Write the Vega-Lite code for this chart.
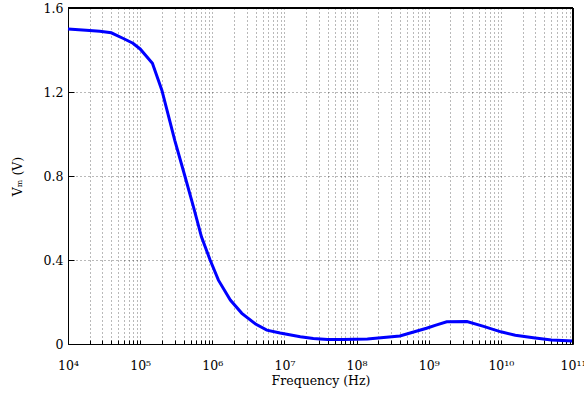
{
  "$schema": "https://vega.github.io/schema/vega-lite/v6.json",
  "width": 505,
  "height": 336,
  "autosize": {"type": "none"},
  "padding": {"left": 68, "top": 8, "right": 11, "bottom": 54},
  "background": "white",
  "config": {
    "view": {"stroke": null},
    "axis": {
      "labelFont": "DejaVu Serif",
      "titleFont": "DejaVu Serif",
      "labelFontSize": 12.5,
      "labelColor": "#000",
      "titleFontSize": 12.5,
      "titleFontWeight": "normal",
      "titleColor": "#000",
      "domainColor": "#000",
      "tickColor": "#000",
      "gridColor": "#000",
      "gridOpacity": 0.55,
      "gridDash": [1, 3]
    }
  },
  "data": {
    "values": [
      {"f": 10000, "v": 1.5},
      {"f": 17783, "v": 1.494},
      {"f": 27542, "v": 1.489},
      {"f": 39811, "v": 1.482},
      {"f": 57544, "v": 1.456},
      {"f": 79433, "v": 1.432},
      {"f": 100000, "v": 1.405},
      {"f": 147911, "v": 1.337},
      {"f": 199526, "v": 1.21},
      {"f": 301995, "v": 0.97},
      {"f": 416869, "v": 0.8},
      {"f": 549541, "v": 0.652},
      {"f": 707946, "v": 0.51},
      {"f": 933254, "v": 0.4},
      {"f": 1216186, "v": 0.304},
      {"f": 1778279, "v": 0.209},
      {"f": 2570396, "v": 0.146},
      {"f": 3981072, "v": 0.095},
      {"f": 5701643, "v": 0.066},
      {"f": 8709636, "v": 0.052},
      {"f": 16595869, "v": 0.035},
      {"f": 25118864, "v": 0.026},
      {"f": 39810717, "v": 0.022},
      {"f": 64565423, "v": 0.021},
      {"f": 141253754, "v": 0.024},
      {"f": 398107171, "v": 0.038},
      {"f": 933254301, "v": 0.075},
      {"f": 1258925412, "v": 0.09},
      {"f": 1778279410, "v": 0.106},
      {"f": 3388441561, "v": 0.107},
      {"f": 5623413252, "v": 0.085},
      {"f": 10000000000, "v": 0.058},
      {"f": 15848931925, "v": 0.042},
      {"f": 28183829313, "v": 0.03},
      {"f": 50118723363, "v": 0.019},
      {"f": 100000000000, "v": 0.014}
    ]
  },
  "layer": [
    {
      "mark": {"type": "line", "color": "#0000FF", "strokeWidth": 3},
      "encoding": {
        "x": {
          "field": "f", "type": "quantitative",
          "scale": {"type": "log", "domain": [10000, 100000000000], "nice": false},
          "axis": {
            "orient": "bottom", "title": "Frequency (Hz)", "grid": true, "tickSize": -4,
            "labelPadding": 19, "titlePadding": 3, "labelFlush": false,
            "values": [10000, 20000, 30000, 40000, 50000, 60000, 70000, 80000, 90000, 100000,
                       200000, 300000, 400000, 500000, 600000, 700000, 800000, 900000, 1000000,
                       2000000, 3000000, 4000000, 5000000, 6000000, 7000000, 8000000, 9000000, 10000000,
                       20000000, 30000000, 40000000, 50000000, 60000000, 70000000, 80000000, 90000000, 100000000,
                       200000000, 300000000, 400000000, 500000000, 600000000, 700000000, 800000000, 900000000, 1000000000,
                       2000000000, 3000000000, 4000000000, 5000000000, 6000000000, 7000000000, 8000000000, 9000000000, 10000000000,
                       20000000000, 30000000000, 40000000000, 50000000000, 60000000000, 70000000000, 80000000000, 90000000000, 100000000000],
            "labelExpr": "abs(log(datum.value)/LN10 - round(log(datum.value)/LN10)) < 0.001 ? '10' + ['⁴','⁵','⁶','⁷','⁸','⁹','¹⁰','¹¹'][round(log(datum.value)/LN10)-4] : ''"
          }
        },
        "y": {
          "field": "v", "type": "quantitative", "scale": {"domain": [0, 1.6], "nice": false},
          "axis": {
            "orient": "left", "title": "Vₘ (V)", "grid": true, "tickSize": -6,
            "labelPadding": 11, "titlePadding": 19, "labelFlush": false,
            "values": [0, 0.4, 0.8, 1.2, 1.6],
            "labelExpr": "datum.value == 0 ? '0' : format(datum.value, '.1f')"
          }
        }
      }
    },
    {
      "mark": {"type": "rule", "color": "#000000", "strokeWidth": 1},
      "encoding": {
        "y": {"datum": 1.6, "type": "quantitative", "scale": {"domain": [0, 1.6], "nice": false}, "axis": null}
      }
    },
    {
      "mark": {"type": "rule", "color": "#000000", "strokeWidth": 1},
      "encoding": {
        "x": {"datum": 100000000000, "type": "quantitative", "scale": {"type": "log", "domain": [10000, 100000000000], "nice": false}, "axis": null}
      }
    }
  ],
  "resolve": {"axis": {"x": "independent", "y": "independent"}}
}
